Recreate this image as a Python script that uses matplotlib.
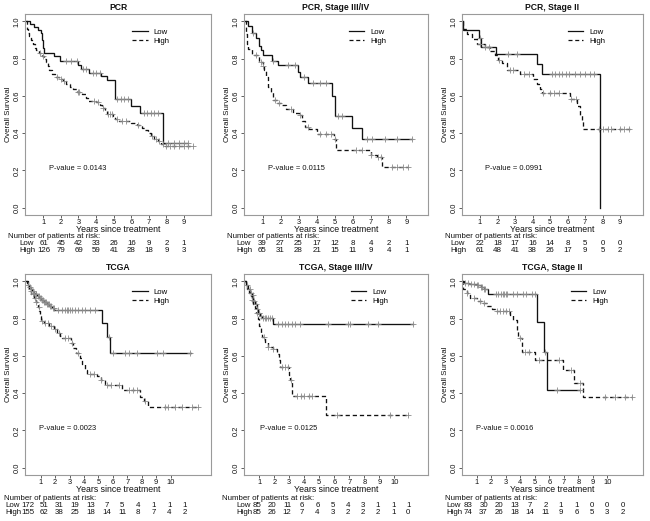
import numpy as np
import matplotlib
matplotlib.use("Agg")
import matplotlib.pyplot as plt
from matplotlib.lines import Line2D

plt.rcParams['font.family'] = ['Liberation Sans', 'DejaVu Sans']

# ---------------- data ----------------
titles = ["PCR", "PCR, Stage III/IV", "PCR, Stage II",
          "TCGA", "TCGA, Stage III/IV", "TCGA, Stage II"]
pvalues = ["0.0143", "0.0115", "0.0991", "0.0023", "0.0125", "0.0016"]

# PCR
pcr_low_t = [0, 0.25, 0.45, 0.7, 0.85, 0.95, 1.0, 1.05, 1.6, 1.95, 3.0, 3.15, 3.6, 4.3, 4.6, 5.05, 6.0, 6.5, 7.82, 9.2]
pcr_low_s = [1.0, 0.985, 0.97, 0.955, 0.94, 0.90, 0.86, 0.83, 0.815, 0.785, 0.765, 0.745, 0.725, 0.705, 0.685, 0.585, 0.545, 0.51, 0.345, 0.345]
pcr_low_c = [2.3, 2.6, 2.9, 3.25, 3.4, 3.8, 4.0, 4.2, 5.2, 5.4, 5.6, 5.8, 6.7, 6.9, 7.1, 7.3, 7.5, 8.1, 8.4, 8.7, 9.0, 9.2]
pcr_high_t = [0, 0.05, 0.1, 0.15, 0.2, 0.3, 0.4, 0.5, 0.6, 0.75, 0.9, 1.05, 1.15, 1.25, 1.35, 1.5, 1.65, 1.9, 2.1, 2.3, 2.5,
              2.7, 2.9, 3.2, 3.4, 3.55, 4.0, 4.2, 4.35, 4.5, 4.6, 4.95, 5.1, 5.3, 6.0, 6.3, 6.6, 6.8, 6.95, 7.1, 7.3, 7.5,
              7.7, 7.9, 9.5]
pcr_high_s = [1.0, 0.98, 0.96, 0.94, 0.92, 0.90, 0.88, 0.86, 0.845, 0.83, 0.815, 0.80, 0.78, 0.76, 0.74, 0.72, 0.70, 0.69,
              0.68, 0.665, 0.65, 0.635, 0.62, 0.61, 0.59, 0.57, 0.565, 0.55, 0.535, 0.52, 0.505, 0.49, 0.475, 0.465, 0.455,
              0.445, 0.43, 0.415, 0.40, 0.385, 0.37, 0.355, 0.34, 0.33, 0.33]
pcr_high_c = [0.8, 1.0, 1.8, 2.0, 2.2, 2.95, 3.05, 3.9, 4.1, 4.4, 4.7, 4.8, 4.9, 5.2, 5.5, 5.7, 6.4, 7.15, 7.4, 7.6, 7.8,
              8.0, 8.2, 8.4, 8.7, 9.0, 9.2, 9.5]
pcr_risk_low = [61, 45, 42, 33, 26, 16, 9, 2, 1]
pcr_risk_high = [126, 79, 69, 59, 41, 28, 18, 9, 3]

# PCR, Stage III/IV
p34_low_t = [0, 0.2, 0.4, 0.65, 0.8, 0.9, 1.0, 1.5, 1.85, 2.97, 3.06, 3.5, 4.85, 5.0, 5.98, 6.5, 9.3]
p34_low_s = [1.0, 0.975, 0.94, 0.91, 0.87, 0.845, 0.82, 0.79, 0.765, 0.73, 0.70, 0.67, 0.60, 0.49, 0.43, 0.37, 0.37]
p34_low_c = [0.45, 1.6, 2.4, 2.8, 3.3, 3.8, 4.2, 4.5, 5.2, 5.4, 6.8, 7.1, 7.8, 8.5, 9.3]
p34_high_t = [0, 0.05, 0.1, 0.2, 0.4, 0.8, 1.0, 1.1, 1.2, 1.3, 1.45, 1.6, 1.8, 2.0, 2.3, 2.7, 3.0, 3.2, 3.35, 3.6, 4.0,
              4.95, 5.1, 7.0, 7.35, 7.65, 9.1]
p34_high_s = [1.0, 0.93, 0.88, 0.85, 0.82, 0.78, 0.76, 0.74, 0.70, 0.65, 0.62, 0.58, 0.56, 0.55, 0.53, 0.51, 0.50, 0.465,
              0.435, 0.42, 0.395, 0.37, 0.31, 0.285, 0.27, 0.22, 0.22]
p34_high_c = [0.6, 0.9, 1.0, 1.7, 1.9, 2.6, 3.1, 3.5, 4.2, 4.5, 4.8, 5.0, 6.2, 6.5, 7.0, 7.4, 7.6, 8.2, 8.5, 8.8, 9.1]
p34_risk_low = [39, 27, 25, 17, 12, 8, 4, 2, 1]
p34_risk_high = [65, 31, 28, 21, 15, 11, 9, 4, 1]

# PCR, Stage II
p2_low_t = [0, 0.02, 0.93, 1.06, 1.9, 4.24, 4.56, 7.82]
p2_low_s = [1.0, 0.955, 0.91, 0.865, 0.825, 0.77, 0.715, 0.0]
p2_low_c = [1.0, 2.6, 3.1, 5.1, 5.3, 5.5, 5.7, 5.9, 6.1, 6.4, 6.7, 7.0, 7.3, 7.5]
p2_high_t = [0, 0.02, 0.24, 0.52, 0.81, 1.28, 1.57, 1.86, 2.05, 2.24, 2.52, 3.3, 4.05, 4.24, 4.43, 4.52, 6.14, 6.52,
             6.71, 6.81, 6.9, 9.57]
p2_high_s = [1.0, 0.96, 0.93, 0.905, 0.88, 0.865, 0.84, 0.82, 0.795, 0.775, 0.74, 0.72, 0.69, 0.665, 0.635, 0.615,
             0.585, 0.545, 0.50, 0.47, 0.42, 0.42]
p2_high_c = [1.0, 1.3, 1.5, 2.1, 2.7, 2.9, 3.5, 3.8, 4.6, 5.0, 5.2, 5.5, 6.2, 6.5, 7.8, 8.0, 8.3, 8.5, 9.0, 9.2, 9.5]
p2_risk_low = [22, 18, 17, 16, 14, 8, 5, 0, 0]
p2_risk_high = [61, 48, 41, 38, 26, 17, 9, 5, 2]

# TCGA
tc_low_t = [0, 0.05, 0.1, 0.2, 0.3, 0.4, 0.5, 0.6, 0.75, 0.9, 1.05, 1.2, 1.4, 1.6, 1.8, 1.95, 5.23, 5.58, 5.81, 11.4]
tc_low_s = [1.0, 0.99, 0.98, 0.97, 0.96, 0.95, 0.94, 0.93, 0.92, 0.91, 0.90, 0.89, 0.88, 0.87, 0.86, 0.845, 0.775,
            0.70, 0.615, 0.615]
tc_low_c = [0.15, 0.25, 0.35, 0.45, 0.55, 0.65, 0.7, 0.8, 0.85, 0.95, 1.0, 1.1, 1.15, 1.25, 1.3, 1.35, 1.45, 1.5, 1.55,
            1.65, 1.7, 1.85, 1.9, 2.22, 2.46, 2.69, 2.8, 2.92, 3.03, 3.15, 3.38, 3.61, 3.84, 4.08, 4.42, 4.77, 5.7,
            6.04, 6.85, 7.1, 7.67, 9.05, 9.5, 11.37]
tc_high_t = [0, 0.1, 0.2, 0.35, 0.5, 0.65, 0.8, 0.9, 0.95, 1.02, 1.25, 1.6, 1.9, 2.1, 2.35, 2.5, 3.1, 3.25, 3.45, 3.7,
             3.85, 4.05, 4.2, 4.9, 5.15, 5.45, 6.6, 7.9, 8.15, 8.4, 11.95]
tc_high_s = [1.0, 0.97, 0.95, 0.93, 0.91, 0.89, 0.865, 0.84, 0.815, 0.79, 0.775, 0.76, 0.745, 0.725, 0.705, 0.695,
             0.67, 0.64, 0.615, 0.59, 0.555, 0.525, 0.505, 0.49, 0.47, 0.445, 0.415, 0.38, 0.36, 0.325, 0.325]
tc_high_c = [0.3, 0.45, 0.6, 0.7, 0.85, 1.1, 1.3, 1.5, 1.7, 2.0, 2.3, 2.7, 2.9, 3.2, 3.6, 4.4, 4.7, 5.2, 5.6, 5.9,
             6.4, 7.1, 7.4, 7.7, 8.2, 9.6, 9.8, 10.3, 10.8, 11.5, 11.9]
tc_risk_low = [172, 51, 31, 19, 13, 7, 5, 4, 1, 1, 1]
tc_risk_high = [155, 62, 38, 25, 18, 14, 11, 8, 7, 4, 2]

# TCGA, Stage III/IV
t34_low_t = [0, 0.1, 0.27, 0.4, 0.49, 0.6, 0.71, 0.82, 0.93, 1.05, 1.16, 1.94, 11.27]
t34_low_s = [1.0, 0.98, 0.96, 0.94, 0.925, 0.895, 0.877, 0.85, 0.83, 0.815, 0.805, 0.77, 0.77]
t34_low_c = [0.2, 0.35, 0.45, 0.55, 0.65, 0.75, 0.85, 0.95, 1.0, 1.1, 1.25, 1.35, 1.45, 1.55, 1.7, 1.85, 2.27, 2.49,
             2.71, 2.93, 3.16, 3.38, 3.71, 5.6, 6.94, 7.05, 8.27, 8.94, 11.27]
t34_high_t = [0, 0.1, 0.2, 0.3, 0.4, 0.5, 0.6, 0.7, 0.8, 0.9, 1.0, 1.1, 1.2, 1.4, 1.6, 1.9, 2.15, 2.3, 2.4, 2.97,
              3.05, 3.2, 5.42, 10.95]
t34_high_s = [1.0, 0.98, 0.96, 0.94, 0.92, 0.90, 0.88, 0.86, 0.83, 0.80, 0.76, 0.72, 0.70, 0.675, 0.65, 0.635, 0.61,
              0.58, 0.54, 0.50, 0.47, 0.385, 0.285, 0.285]
t34_high_c = [0.5, 0.85, 1.3, 1.6, 1.9, 2.5, 2.7, 2.9, 3.1, 3.5, 3.8, 4.0, 4.3, 4.5, 6.2, 9.7, 10.9]
t34_risk_low = [85, 20, 11, 6, 6, 5, 4, 3, 1, 1, 1]
t34_risk_high = [85, 26, 12, 7, 4, 3, 2, 2, 2, 1, 0]

# TCGA, Stage II
t2_low_t = [0, 0.1, 0.5, 1.0, 1.3, 1.5, 1.8, 5.17, 5.62, 5.85, 8.13]
t2_low_s = [1.0, 0.99, 0.985, 0.98, 0.97, 0.96, 0.935, 0.78, 0.62, 0.415, 0.415]
t2_low_c = [0.2, 0.4, 0.6, 0.8, 1.0, 1.1, 1.3, 1.4, 1.5, 1.6, 2.3, 2.5, 2.7, 2.8, 2.9, 3.0, 3.1, 3.5, 3.8, 4.2, 4.4,
            4.8, 5.0, 5.7, 6.5, 8.1]
t2_high_t = [0, 0.05, 0.3, 0.54, 1.0, 1.34, 1.69, 2.03, 2.26, 3.3, 3.53, 3.76, 3.87, 4.1, 5.02, 6.93, 7.71, 8.31, 11.7]
t2_high_s = [1.0, 0.96, 0.94, 0.91, 0.895, 0.885, 0.868, 0.853, 0.84, 0.82, 0.795, 0.74, 0.695, 0.62, 0.577, 0.522,
             0.455, 0.38, 0.38]
t2_high_c = [0.3, 0.8, 1.2, 1.5, 2.4, 2.6, 2.8, 3.0, 3.2, 4.0, 4.3, 4.6, 5.3, 6.7, 7.5, 8.1, 9.8, 10.5, 11.2, 11.7]
t2_risk_low = [83, 30, 20, 13, 7, 2, 1, 1, 0, 0, 0]
t2_risk_high = [74, 37, 26, 18, 14, 11, 9, 6, 5, 3, 2]

pcr_ticks = [1, 2, 3, 4, 5, 6, 7, 8, 9]
tcga_ticks = [1, 2, 3, 4, 5, 6, 7, 8, 9, 10]

panels = [
    (pcr_low_t, pcr_low_s, pcr_low_c, pcr_high_t, pcr_high_s, pcr_high_c, pcr_risk_low, pcr_risk_high, pcr_ticks),
    (p34_low_t, p34_low_s, p34_low_c, p34_high_t, p34_high_s, p34_high_c, p34_risk_low, p34_risk_high, pcr_ticks),
    (p2_low_t, p2_low_s, p2_low_c, p2_high_t, p2_high_s, p2_high_c, p2_risk_low, p2_risk_high, pcr_ticks),
    (tc_low_t, tc_low_s, tc_low_c, tc_high_t, tc_high_s, tc_high_c, tc_risk_low, tc_risk_high, tcga_ticks),
    (t34_low_t, t34_low_s, t34_low_c, t34_high_t, t34_high_s, t34_high_c, t34_risk_low, t34_risk_high, tcga_ticks),
    (t2_low_t, t2_low_s, t2_low_c, t2_high_t, t2_high_s, t2_high_c, t2_risk_low, t2_risk_high, tcga_ticks),
]

# ---------------- layout (pixels of a 650x521 canvas) ----------------
W, H = 650, 521
boxes = [(25, 14, 211, 215), (244, 14, 428, 215), (462, 14, 643, 215),
         (25, 274, 211, 475), (244, 274, 428, 475), (462, 274, 643, 475)]
xlims = [(-0.04, 10.53), (-0.04, 10.2), (-0.03, 10.3), (-0.09, 12.8), (-0.02, 12.25), (-0.01, 12.45)]
# risk table number positions (axes fraction, first..last)
risk_span = [(0.10, 0.855), (0.10, 0.885), (0.0995, 0.873), (0.016, 0.86), (0.069, 0.893), (0.034, 0.888)]
risk_label_x = [-0.032, -0.04, -0.062, -0.108, -0.04, -0.085]
risk_title_x = [-0.091, -0.092, -0.094, -0.113, -0.12, -0.094]
pval_x = [0.129, 0.13, 0.127, 0.077, 0.087, 0.077]
leg_x = [0.575, 0.57, 0.585, 0.575, 0.58, 0.60]

fig = plt.figure(figsize=(W / 100, H / 100), dpi=100)
txtc = '#111111'
framec = '#9a9a9a'
censc = '#8a8a8a'
rfs = 5.7


def step_val(ts, ss, c):
    i = np.searchsorted(np.asarray(ts), c, side='right') - 1
    return np.asarray(ss)[max(i, 0)]


for k, (box, pan) in enumerate(zip(boxes, panels)):
    lt, ls, lc, ht, hs, hc, rl, rh, ticks = pan
    x0, y0, x1, y1 = box
    ax = fig.add_axes([x0 / W, 1 - y1 / H, (x1 - x0) / W, (y1 - y0) / H])
    ax.step(lt, ls, where='post', color='#111111', lw=0.95, solid_joinstyle='miter')
    ax.step(ht, hs, where='post', color='#111111', lw=0.95, linestyle=(0, (3.2, 2.2)))
    ax.plot(lc, [step_val(lt, ls, c) for c in lc], linestyle='none', marker='+',
            ms=4.5, mew=0.6, color=censc)
    ax.plot(hc, [step_val(ht, hs, c) for c in hc], linestyle='none', marker='+',
            ms=4.5, mew=0.6, color=censc)

    ax.set_xlim(*xlims[k])
    ax.set_ylim(-0.04, 1.04)
    ax.set_xticks(ticks)
    ax.set_xticklabels([str(t) for t in ticks])
    ax.set_yticks([0, 0.2, 0.4, 0.6, 0.8, 1.0])
    ax.set_yticklabels(["0.0", "0.2", "0.4", "0.6", "0.8", "1.0"], rotation=90, va='center')
    ax.tick_params(axis='both', length=2, width=0.6, pad=1.0, labelsize=5.4,
                   colors='#444444', labelcolor=txtc)
    for sp in ax.spines.values():
        sp.set_color(framec)
        sp.set_linewidth(0.8)
    ax.set_title(titles[k], fontsize=6.2, fontweight='bold', pad=3, color=txtc)
    ax.set_xlabel("Years since treatment", fontsize=6.3, labelpad=-0.5, color=txtc)
    ax.set_ylabel("Overall Survival", fontsize=5.7, labelpad=1.5, color=txtc)

    ax.text(pval_x[k], 0.23, "P-value = " + pvalues[k], transform=ax.transAxes,
            fontsize=5.4, va='center', ha='left', color=txtc)

    handles = [Line2D([], [], color='#111111', lw=0.9),
               Line2D([], [], color='#111111', lw=0.9, linestyle=(0, (3.2, 2.2)))]
    ax.legend(handles, ["Low", "High"], loc='upper left', bbox_to_anchor=(leg_x[k], 0.93),
              frameon=False, fontsize=5.6, handlelength=2.0, handletextpad=0.8,
              labelspacing=0.2, borderaxespad=0, borderpad=0)

    top_row = k < 3
    yt, yl, yh = (-0.107, -0.142, -0.177) if top_row else (-0.115, -0.150, -0.186)
    ax.text(risk_title_x[k], yt, "Number of patients at risk:", transform=ax.transAxes,
            fontsize=rfs, ha='left', va='center', color=txtc, clip_on=False)
    ax.text(risk_label_x[k], yl, "Low", transform=ax.transAxes, fontsize=rfs,
            ha='left', va='center', color=txtc)
    ax.text(risk_label_x[k], yh, "High", transform=ax.transAxes, fontsize=rfs,
            ha='left', va='center', color=txtc)
    pos = np.linspace(risk_span[k][0], risk_span[k][1], len(rl))
    for p, a, b in zip(pos, rl, rh):
        ax.text(p, yl, str(a), transform=ax.transAxes, fontsize=rfs, ha='center', va='center', color=txtc)
        ax.text(p, yh, str(b), transform=ax.transAxes, fontsize=rfs, ha='center', va='center', color=txtc)

fig.savefig("out.png", dpi=100)
